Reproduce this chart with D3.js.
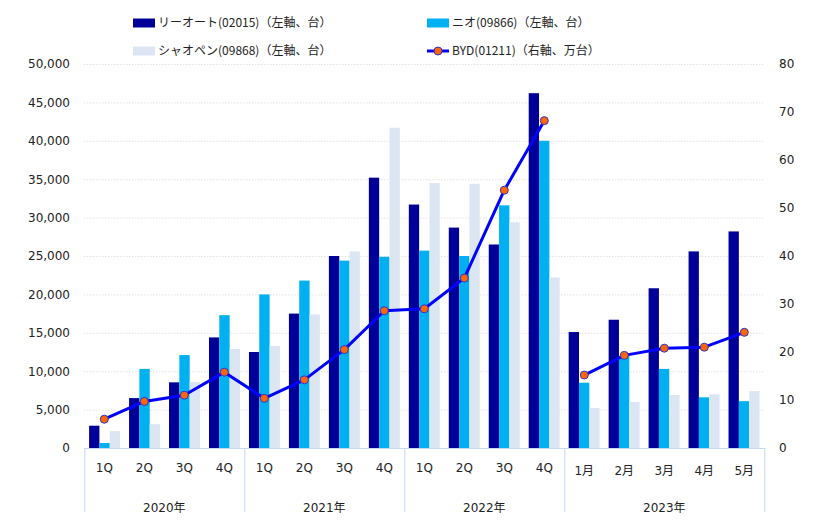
<!DOCTYPE html>
<html><head><meta charset="utf-8">
<script src="https://cdn.jsdelivr.net/npm/d3@7"></script>
<style>body{margin:0;background:#fff}svg{display:block}</style>
</head><body><svg id="c" width="825" height="528"></svg>
<script>
const categories = ["1Q","2Q","3Q","4Q","1Q","2Q","3Q","4Q","1Q","2Q","3Q","4Q","1月","2月","3月","4月","5月"];
const groups = [{name:"2020年",n:4},{name:"2021年",n:4},{name:"2022年",n:4},{name:"2023年",n:5}];
const liAuto = [2900,6500,8550,14400,12500,17500,25000,35200,31700,28700,26500,46200,15100,16700,20800,25600,28200];
const nio    = [650,10300,12100,17300,20000,21800,24400,24900,25700,25000,31600,40000,8500,12000,10300,6600,6100];
const xpeng  = [2200,3100,8600,12900,13300,17400,25600,41700,34500,34400,29400,22200,5200,6000,6900,7000,7400];
const byd    = [6.0,9.7,11.0,15.8,10.35,14.2,20.5,28.6,29.0,35.4,53.7,68.2,15.2,19.3,20.8,21.0,24.1];
const leftTicks = [0,5000,10000,15000,20000,25000,30000,35000,40000,45000,50000];
const rightTicks = [0,10,20,30,40,50,60,70,80];
const seriesNames = ["リーオート(02015)（左軸、台）","ニオ(09866)（左軸、台）","シャオペン(09868)（左軸、台）","BYD(01211)（右軸、万台）"];
const colors = ["#000099","#00B0F0","#DCE6F2"];

const svg = d3.select("#c");
const L = 84.3, R = 764.3, T = 64, B = 448;
const idx = categories.map((_,i)=>i);
const x = d3.scaleBand().domain(idx).range([L,R]).paddingInner(0.225).paddingOuter(0.12);
const xc = d3.scaleBand().domain(idx).range([L,R]);
const y = d3.scaleLinear().domain([0,50000]).range([B,T]);
const y2 = d3.scaleLinear().domain([0,80]).range([B,T]);
const fmt = d3.format(",");

// gridlines
svg.append("g").selectAll("line").data(leftTicks.slice(1)).join("line")
  .attr("x1",L).attr("x2",R+1).attr("y1",d=>y(d)+0.5).attr("y2",d=>y(d)+0.5)
  .attr("stroke","#d9d3d6").attr("stroke-width",1).attr("stroke-dasharray","1,2");

// left axis
const ya = svg.append("g").attr("transform",`translate(70,0)`)
  .call(d3.axisLeft(y).tickValues(leftTicks).tickFormat(fmt).tickSize(0).tickPadding(0));
ya.select(".domain").remove();
ya.selectAll("text").attr("font-family","DejaVu Sans").attr("font-size","12px").attr("fill","#222");

// right axis
const yb = svg.append("g").attr("transform",`translate(779,0)`)
  .call(d3.axisRight(y2).tickValues(rightTicks).tickSize(0).tickPadding(0));
yb.select(".domain").remove();
yb.selectAll("text").attr("font-family","DejaVu Sans").attr("font-size","12px").attr("fill","#222");

// bars
const bw = x.bandwidth()/3;
[liAuto,nio,xpeng].forEach((arr,s)=>{
  svg.append("g").selectAll("rect").data(arr).join("rect")
    .attr("x",(d,i)=>x(i)+s*bw).attr("width",bw)
    .attr("y",d=>y(d)).attr("height",d=>B-y(d))
    .attr("fill",colors[s]);
});

// category axis
const ax = svg.append("g");
ax.append("line").attr("x1",L).attr("x2",R+1).attr("y1",B+0.5).attr("y2",B+0.5).attr("stroke","#c6d9f1");
let start = 0;
const bounds=[0];
groups.forEach(g=>{start+=g.n;bounds.push(start);});
ax.selectAll("line.sep").data(bounds).join("line").attr("class","sep")
  .attr("x1",d=>(d<categories.length?xc(d):R)+0.5).attr("x2",d=>(d<categories.length?xc(d):R)+0.5)
  .attr("y1",B).attr("y2",512).attr("stroke","#c6d9f1");
ax.selectAll("text.cat").data(categories).join("text").attr("class","cat")
  .attr("x",(d,i)=>xc(i)+xc.bandwidth()/2).attr("y",(d,i)=>i>=12?475:472)
  .attr("text-anchor","middle").attr("font-family","DejaVu Sans, Noto Sans CJK JP").attr("font-size","12px").attr("fill","#222")
  .text(d=>d);
ax.selectAll("text.grp").data(groups).join("text").attr("class","grp")
  .attr("x",(d,i)=>(xc(bounds[i]) + (bounds[i+1]<categories.length?xc(bounds[i+1]):R))/2)
  .attr("y",512).attr("text-anchor","middle").attr("font-family","DejaVu Sans, Noto Sans CJK JP").attr("font-size","12px").attr("fill","#222")
  .text(d=>d.name);

// BYD line (two segments)
const pts = byd.map((v,i)=>({i,v}));
const segs = [pts.slice(0,12), pts.slice(12)];
const line = d3.line().x(d=>xc(d.i)+xc.bandwidth()/2).y(d=>y2(d.v));
svg.append("g").selectAll("path").data(segs).join("path")
  .attr("d",line).attr("fill","none").attr("stroke","#0000FF").attr("stroke-width",3).attr("stroke-linejoin","round");
svg.append("g").selectAll("circle").data(pts).join("circle")
  .attr("cx",d=>xc(d.i)+xc.bandwidth()/2).attr("cy",d=>y2(d.v)).attr("r",4)
  .attr("fill","#FF6600").attr("stroke","#3333CC").attr("stroke-width",1);

// legend
const lg = svg.append("g").attr("font-family","Noto Sans CJK JP, DejaVu Sans").attr("font-size","12px").attr("fill","#222");
const items = [{x:133,y:23,t:0},{x:427,y:23,t:1},{x:133,y:51,t:2},{x:427,y:51,t:3}];
items.forEach(it=>{
  if(it.t<3){
    lg.append("rect").attr("x",it.x).attr("y",it.y-4.5).attr("width",22).attr("height",9).attr("fill",colors[it.t]);
  } else {
    lg.append("line").attr("x1",it.x).attr("x2",it.x+22).attr("y1",it.y).attr("y2",it.y).attr("stroke","#0000FF").attr("stroke-width",3);
    lg.append("circle").attr("cx",it.x+11).attr("cy",it.y).attr("r",4).attr("fill","#FF6600").attr("stroke","#3333CC");
  }
  lg.append("text").attr("x",it.x+25).attr("y",it.y).attr("dy","0.35em").text(seriesNames[it.t]);
});
</script></body></html>
